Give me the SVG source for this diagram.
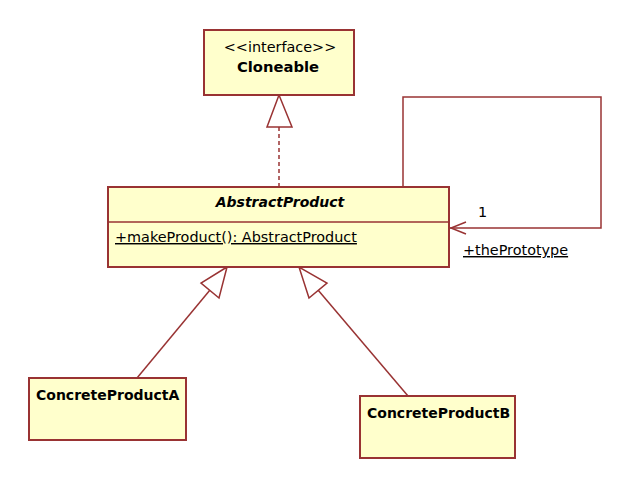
<svg xmlns="http://www.w3.org/2000/svg" width="632" height="489" viewBox="0 0 632 489">
<style>
.box{fill:#FFFFCC;stroke:#993333;stroke-width:2}
.ln{fill:none;stroke:#993333;stroke-width:1.5}
.tri{fill:#FFFFFF;stroke:#993333;stroke-width:1.5}
text{font-family:"DejaVu Sans","Liberation Sans",sans-serif;font-size:14.4px;fill:#000}
.b{font-weight:bold;font-size:14px}
.bi{font-weight:bold;font-style:italic;font-size:14px}
.u{text-decoration:underline}
</style>
<rect width="632" height="489" fill="#FFFFFF"/>
<g id="connectors">
  <path class="ln" d="M279,127 L279,186" stroke-dasharray="4,3"/>
  <path class="tri" d="M279,95 L267,127 L292,127 Z"/>
  <path class="ln" d="M210,290 L137,378"/>
  <path class="tri" d="M227,267 L201,283 L219,298 Z"/>
  <path class="ln" d="M318,290 L408,396"/>
  <path class="tri" d="M299,267 L309,298 L327,283 Z"/>
  <path class="ln" d="M403,187 L403,97 L601,97 L601,228 L450,228"/>
  <path class="ln" d="M466,222 L451,228 L466,234"/>
  <text x="478" y="217">1</text>
  <text class="u" x="463" y="255">+thePrototype</text>
</g>
<g id="Cloneable">
  <rect class="box" x="204" y="30" width="150" height="65"/>
  <text x="280" y="52" text-anchor="middle">&lt;&lt;interface&gt;&gt;</text>
  <text class="b" x="278" y="72" text-anchor="middle" textLength="82" lengthAdjust="spacingAndGlyphs">Cloneable</text>
</g>
<g id="AbstractProduct">
  <rect class="box" x="108" y="187" width="341" height="80"/>
  <line class="ln" x1="108" y1="222" x2="449" y2="222" stroke-width="2"/>
  <text class="bi" x="280" y="207" text-anchor="middle">AbstractProduct</text>
  <text class="u" x="115" y="242">+makeProduct(): AbstractProduct</text>
</g>
<g id="ConcreteProductA">
  <rect class="box" x="29" y="378" width="157" height="62"/>
  <text class="b" x="36" y="400">ConcreteProductA</text>
</g>
<g id="ConcreteProductB">
  <rect class="box" x="360" y="396" width="155" height="62"/>
  <text class="b" x="367" y="418">ConcreteProductB</text>
</g>
</svg>
